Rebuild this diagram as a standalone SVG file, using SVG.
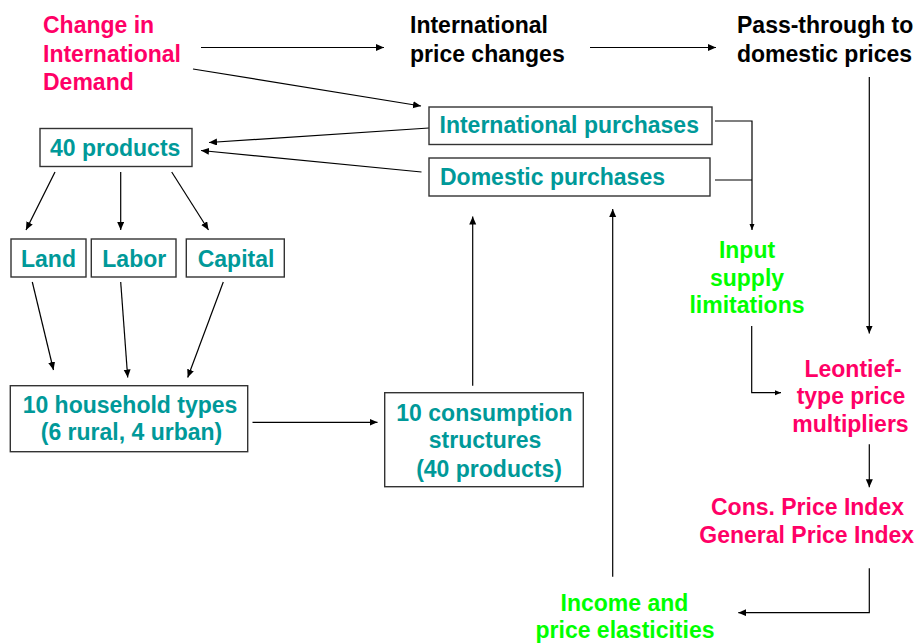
<svg xmlns="http://www.w3.org/2000/svg" width="920" height="644" viewBox="0 0 920 644">
<defs>
<style>
text{font-family:"Liberation Sans",Arial,sans-serif;font-weight:bold;font-size:23px}
.pink{fill:#ff0066}
.teal{fill:#009999}
.green{fill:#00ff00}
.black{fill:#000}
.box{fill:#fff;stroke:#333;stroke-width:1.4}
.c line,.c polyline{stroke:#000;stroke-width:1.2;fill:none}
.mid{text-anchor:middle}
</style>
<marker id="ah" markerUnits="userSpaceOnUse" markerWidth="10" markerHeight="8" refX="8" refY="3.5" orient="auto">
<path d="M0,0 L8,3.5 L0,7 z" fill="#000"/>
</marker>
<marker id="as" markerUnits="userSpaceOnUse" markerWidth="8" markerHeight="6" refX="6" refY="2.5" orient="auto">
<path d="M0,0 L6,2.5 L0,5 z" fill="#000"/>
</marker>
</defs>
<rect width="920" height="644" fill="#fff"/>

<g class="c" id="connectors">
<line x1="201" y1="47.5" x2="384" y2="47.5" marker-end="url(#ah)"/>
<line x1="590" y1="47.5" x2="716" y2="47.5" marker-end="url(#ah)"/>
<line x1="193" y1="69" x2="421" y2="106" marker-end="url(#ah)"/>
<line x1="429" y1="128" x2="209" y2="142.5" marker-end="url(#ah)"/>
<line x1="421.5" y1="172" x2="201" y2="150.5" marker-end="url(#ah)"/>
<line x1="55" y1="172" x2="26" y2="230" marker-end="url(#ah)"/>
<line x1="120.7" y1="172" x2="120.7" y2="230" marker-end="url(#ah)"/>
<line x1="171.7" y1="172" x2="208.5" y2="230" marker-end="url(#ah)"/>
<line x1="32.3" y1="282" x2="53.5" y2="370" marker-end="url(#ah)"/>
<line x1="120.7" y1="282" x2="127.7" y2="377.5" marker-end="url(#ah)"/>
<line x1="223.3" y1="282" x2="187.7" y2="377.5" marker-end="url(#ah)"/>
<line x1="252.5" y1="422.3" x2="377.5" y2="422.3" marker-end="url(#ah)"/>
<line x1="472.7" y1="385.7" x2="472.7" y2="216.5" marker-end="url(#ah)"/>
<line x1="612.7" y1="576.7" x2="612.7" y2="209" marker-end="url(#ah)"/>
<polyline points="715,121 752,121 752,230" marker-end="url(#as)"/>
<line x1="715" y1="180" x2="752" y2="180"/>
<line x1="869.3" y1="77" x2="869.3" y2="333.5" marker-end="url(#ah)"/>
<polyline points="751.7,326 751.7,392.7 781,392.7" marker-end="url(#as)"/>
<line x1="869.3" y1="444.3" x2="869.3" y2="487.3" marker-end="url(#ah)"/>
<polyline points="869.3,568.3 869.3,612.7 738.3,612.7" marker-end="url(#ah)"/>
</g>

<g id="change-demand">
<text class="pink" x="43" y="33">Change in</text>
<text class="pink" x="43" y="61.7">International</text>
<text class="pink" x="43" y="90">Demand</text>
</g>
<g id="intl-price-changes">
<text class="black" x="410" y="33.3">International</text>
<text class="black" x="410" y="61.7">price changes</text>
</g>
<g id="pass-through">
<text class="black" x="737" y="33.3">Pass-through to</text>
<text class="black" x="737" y="61.7">domestic prices</text>
</g>
<g id="intl-purchases">
<rect class="box" x="429" y="107" width="283" height="37.5"/>
<text class="teal" x="439.5" y="133.3">International purchases</text>
</g>
<g id="dom-purchases">
<rect class="box" x="429" y="158" width="281" height="38"/>
<text class="teal" x="440" y="185">Domestic purchases</text>
</g>
<g id="products40">
<rect class="box" x="40" y="128.5" width="152" height="38"/>
<text class="teal" x="50" y="156">40 products</text>
</g>
<g id="land">
<rect class="box" x="11" y="239" width="75" height="38"/>
<text class="teal" x="21" y="266.7">Land</text>
</g>
<g id="labor">
<rect class="box" x="91.3" y="239" width="84.7" height="38"/>
<text class="teal" x="102.3" y="266.7">Labor</text>
</g>
<g id="capital">
<rect class="box" x="186.3" y="239" width="98" height="38"/>
<text class="teal" x="197.7" y="266.7">Capital</text>
</g>
<g id="households">
<rect class="box" x="10.3" y="385.7" width="237.4" height="66"/>
<text class="teal mid" x="130" y="412.7">10 household types</text>
<text class="teal mid" x="131.5" y="440">(6 rural, 4 urban)</text>
</g>
<g id="consumption">
<rect class="box" x="384.7" y="392.7" width="198.6" height="94"/>
<text class="teal mid" x="484.5" y="420.7">10 consumption</text>
<text class="teal mid" x="485" y="448.3">structures</text>
<text class="teal mid" x="489" y="476.7">(40 products)</text>
</g>
<g id="input-supply">
<text class="green mid" x="747" y="258.3">Input</text>
<text class="green mid" x="747" y="286">supply</text>
<text class="green mid" x="747" y="313.3">limitations</text>
</g>
<g id="leontief">
<text class="pink mid" x="853" y="376.7">Leontief-</text>
<text class="pink mid" x="851" y="404">type price</text>
<text class="pink mid" x="850.5" y="431.7">multipliers</text>
</g>
<g id="price-index">
<text class="pink mid" x="807.5" y="515">Cons. Price Index</text>
<text class="pink mid" x="806.7" y="542.7">General Price Index</text>
</g>
<g id="income-elasticities">
<text class="green mid" x="624.5" y="610.7">Income and</text>
<text class="green mid" x="625" y="637.5">price elasticities</text>
</g>
</svg>
